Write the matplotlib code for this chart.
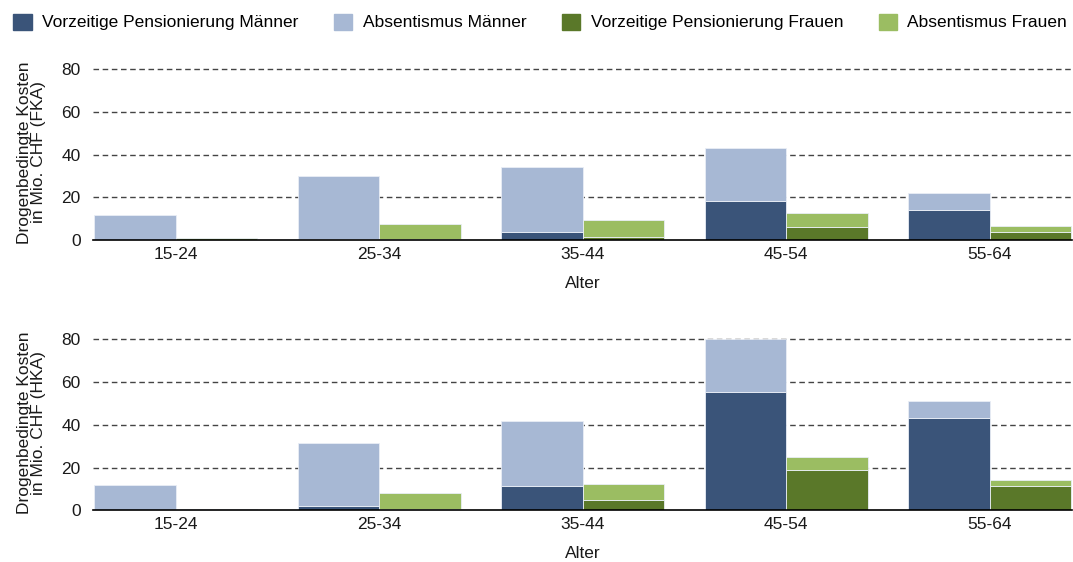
"""Drogenbedingte Kosten nach Alter, FKA und HKA, gestapelte Balken."""

import matplotlib

matplotlib.use("Agg")
import matplotlib.pyplot as plt
import numpy as np

plt.rcParams["font.family"] = ["Liberation Sans", "DejaVu Sans"]

age_groups = ["15-24", "25-34", "35-44", "45-54", "55-64"]

# FKA (oben), Mio. CHF
fka_pension_men = [0.0, 0.3, 3.6, 18.3, 14.1]
fka_absent_men = [11.6, 29.7, 30.6, 24.8, 7.9]
fka_pension_women = [0.2, 0.3, 1.6, 6.3, 3.6]
fka_absent_women = [0.6, 7.3, 7.6, 6.2, 3.0]

# HKA (unten), Mio. CHF
hka_pension_men = [0.0, 1.9, 11.2, 55.3, 43.0]
hka_absent_men = [11.7, 29.4, 30.6, 24.7, 8.0]
hka_pension_women = [0.4, 0.5, 4.8, 18.7, 11.4]
hka_absent_women = [0.3, 7.6, 7.7, 6.4, 2.6]

series_labels = [
    "Vorzeitige Pensionierung Männer",
    "Absentismus Männer",
    "Vorzeitige Pensionierung Frauen",
    "Absentismus Frauen",
]
colors = ["#3a5479", "#a7b8d4", "#5a7829", "#9bbd62"]

W, H = 1073, 562
FS = 12.5
fig = plt.figure(figsize=(W / 100, H / 100), dpi=100)


def panel(rect, pm, am, pw, aw, ylabel):
    ax = fig.add_axes(rect)
    x = np.arange(len(age_groups))
    width = 0.4
    edge = dict(edgecolor="#e9eef6", linewidth=0.6)
    ax.bar(x - width / 2, pm, width, color=colors[0], **edge, zorder=3)
    ax.bar(x - width / 2, am, width, bottom=pm, color=colors[1], **edge, zorder=3)
    ax.bar(x + width / 2, pw, width, color=colors[2], **edge, zorder=3)
    ax.bar(x + width / 2, aw, width, bottom=pw, color=colors[3], **edge, zorder=3)

    ax.set_xlim(-0.405, 4.405)
    ax.set_ylim(0, 82)
    ax.set_yticks([0, 20, 40, 60, 80])
    ax.set_xticks(x)
    ax.set_xticklabels(age_groups)
    ax.tick_params(length=0, labelsize=FS, labelcolor="#1a1a1a")
    ax.tick_params(axis="y", pad=9)
    ax.tick_params(axis="x", pad=5)
    for y in [20, 40, 60, 80]:
        ax.axhline(y, color="#444444", lw=1.0, ls=(0, (4, 2.6)), zorder=1)
    for side in ["top", "right", "left"]:
        ax.spines[side].set_visible(False)
    ax.spines["bottom"].set_color("black")
    ax.spines["bottom"].set_linewidth(1.2)
    ax.spines["bottom"].set_zorder(4)
    ax.set_xlabel("Alter", fontsize=FS, labelpad=10, color="#1a1a1a")
    ax.set_ylabel(ylabel, fontsize=FS, labelpad=11, color="#1a1a1a", linespacing=0.95)
    return ax


left = 93.3 / W
width = (1072 - 93.3) / W
ax1 = panel(
    [left, 1 - 240 / H, width, 82 * 2.133 / H],
    fka_pension_men, fka_absent_men, fka_pension_women, fka_absent_women,
    "Drogenbedingte Kosten\nin Mio. CHF (FKA)",
)
ax2 = panel(
    [left, 1 - 510.3 / H, width, 82 * 2.1375 / H],
    hka_pension_men, hka_absent_men, hka_pension_women, hka_absent_women,
    "Drogenbedingte Kosten\nin Mio. CHF (HKA)",
)

handles = [plt.Rectangle((0, 0), 1, 1, color=c) for c in colors]
fig.legend(
    handles, series_labels, ncol=4, loc="center left",
    bbox_to_anchor=(-0.002, 1 - 22 / H), frameon=False, fontsize=FS,
    handlelength=1.05, handleheight=1.05, handletextpad=0.6, columnspacing=2.05,
)

fig.savefig("out.png", dpi=100)
